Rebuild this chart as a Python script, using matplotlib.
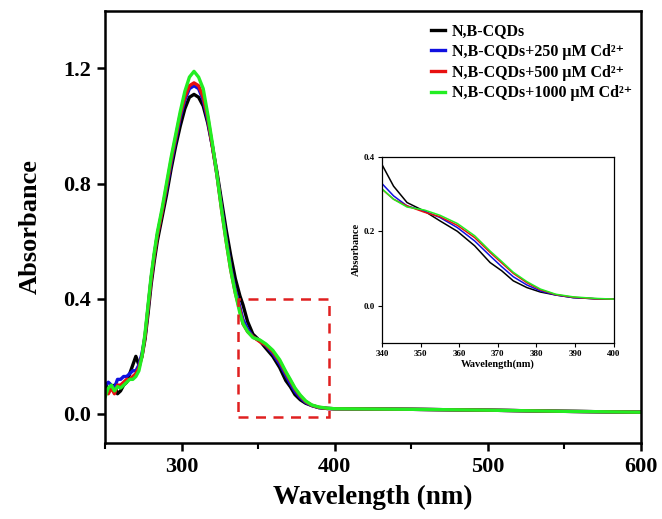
import numpy as np
import matplotlib
matplotlib.use('Agg')
import matplotlib.pyplot as plt
from matplotlib.patches import Rectangle

plt.rcParams['font.family'] = ['Liberation Serif', 'DejaVu Serif']
plt.rcParams['font.weight'] = 'bold'

#+++++++++++++++ spectra
wl = [250, 252, 254, 256, 258, 260, 262, 264, 266, 268, 270, 272,
      274, 276, 278, 280, 282, 284, 287, 290, 293, 296, 299, 302, 305, 308,
      311, 314, 317, 320, 323, 326, 329, 332, 335, 338,
      340, 343, 346.5, 351, 355, 359.5, 364, 368, 371,
      374, 377.5, 381, 385, 389.5, 395, 400, 450, 500, 550, 600]

a_blank = [0.10, 0.09, 0.085, 0.10, 0.07, 0.08, 0.10, 0.11, 0.14, 0.17, 0.20, 0.17,
           0.20, 0.26, 0.35, 0.45, 0.53, 0.60, 0.68, 0.76, 0.85, 0.93, 1.00, 1.06, 1.10, 1.11,
           1.10, 1.07, 1.01, 0.93, 0.84, 0.74, 0.64, 0.55, 0.47, 0.41,
           0.379, 0.321, 0.277, 0.254, 0.228, 0.200, 0.161, 0.116, 0.094,
           0.067, 0.049, 0.037, 0.029, 0.022, 0.019, 0.018, 0.016, 0.013, 0.009, 0.006]
a_250 = [0.10, 0.11, 0.10, 0.09, 0.12, 0.12, 0.13, 0.13, 0.14, 0.15, 0.15, 0.17,
         0.21, 0.27, 0.37, 0.47, 0.55, 0.62, 0.70, 0.78, 0.87, 0.95, 1.03, 1.09, 1.13, 1.14,
         1.13, 1.09, 1.02, 0.93, 0.83, 0.72, 0.61, 0.51, 0.43, 0.37,
         0.328, 0.295, 0.268, 0.254, 0.237, 0.210, 0.174, 0.134, 0.105,
         0.078, 0.056, 0.040, 0.029, 0.022, 0.019, 0.018, 0.016, 0.013, 0.009, 0.006]
a_500 = [0.08, 0.07, 0.09, 0.07, 0.10, 0.10, 0.11, 0.12, 0.12, 0.13, 0.14, 0.16,
         0.20, 0.27, 0.37, 0.47, 0.55, 0.62, 0.70, 0.79, 0.88, 0.96, 1.04, 1.10, 1.14, 1.15,
         1.14, 1.10, 1.03, 0.93, 0.83, 0.71, 0.60, 0.50, 0.42, 0.36,
         0.313, 0.286, 0.268, 0.251, 0.239, 0.216, 0.183, 0.143, 0.115,
         0.087, 0.062, 0.043, 0.030, 0.023, 0.019, 0.018, 0.016, 0.013, 0.009, 0.006]
a_1000 = [0.06, 0.09, 0.10, 0.08, 0.095, 0.09, 0.10, 0.11, 0.12, 0.12, 0.13, 0.15,
          0.20, 0.28, 0.38, 0.48, 0.56, 0.63, 0.71, 0.80, 0.89, 0.97, 1.05, 1.12, 1.17, 1.19,
          1.17, 1.13, 1.04, 0.94, 0.83, 0.71, 0.60, 0.50, 0.42, 0.35,
          0.314, 0.286, 0.265, 0.257, 0.243, 0.221, 0.188, 0.147, 0.119,
          0.090, 0.065, 0.045, 0.031, 0.024, 0.020, 0.018, 0.016, 0.013, 0.009, 0.006]

labels = ['N,B-CQDs',
          'N,B-CQDs+250 \u03bcM Cd\u00b2\u207a',
          'N,B-CQDs+500 \u03bcM Cd\u00b2\u207a',
          'N,B-CQDs+1000 \u03bcM Cd\u00b2\u207a']
colors = ['black', '#1010e0', '#e81010', '#22ee22']
series = [a_blank, a_250, a_500, a_1000]

#+++++++++++++++ main axes
fig = plt.figure(figsize=(6.62, 5.19), dpi=100)
ax = fig.add_axes([0.159, 0.147, 0.809, 0.832])

for y, c, lab in zip(series, colors, labels):
    ax.plot(wl, y, color=c, lw=2.4, label=lab)

ax.set_xlim(250, 600)
ax.set_ylim(-0.1, 1.4)
ax.set_xticks([300, 400, 500, 600])
ax.set_xticks([250, 350, 450, 550], minor=True)
ax.set_yticks([0.0, 0.4, 0.8, 1.2])
ax.set_yticklabels(['0.0', '0.4', '0.8', '1.2'])
ax.tick_params(axis='both', which='major', direction='out', length=6, width=1.8,
               labelsize=16, pad=4)
ax.tick_params(axis='x', which='minor', direction='out', length=4, width=1.5)
for s in ax.spines.values():
    s.set_linewidth(1.8)
ax.set_xlabel('Wavelength (nm)', fontsize=19.5, fontweight='bold', labelpad=6)
ax.set_ylabel('Absorbance', fontsize=19, fontweight='bold', labelpad=16)

leg = ax.legend(loc='upper right', bbox_to_anchor=(1.01, 1.005), frameon=False,
                fontsize=11.5, handlelength=0.9, handletextpad=0.4, labelspacing=0.3)

# dashed zoom box
ax.add_patch(Rectangle((337, -0.01), 59, 0.41, fill=False, ec='#e02020',
                       ls=(0, (4, 3)), lw=1.8, zorder=5))

#+++++++++++++++ inset
ins = fig.add_axes([0.577, 0.339, 0.350, 0.359])
for y, c in zip(series, colors):
    ins.plot(wl, y, color=c, lw=1.1)
ins.set_xlim(340, 400)
ins.set_ylim(-0.1, 0.4)
ins.set_xticks([340, 350, 360, 370, 380, 390, 400])
ins.set_yticks([0.0, 0.2, 0.4])
ins.set_yticklabels(['0.0', '0.2', '0.4'])
ins.tick_params(direction='out', length=3, width=0.8, labelsize=6.5, pad=2)
for s in ins.spines.values():
    s.set_linewidth(0.9)
ins.set_xlabel('Wavelength(nm)', fontsize=7.5, fontweight='bold', labelpad=1)
ins.set_ylabel('Absorbance', fontsize=7.5, fontweight='bold', labelpad=2)

fig.savefig('out.png', dpi=100)
